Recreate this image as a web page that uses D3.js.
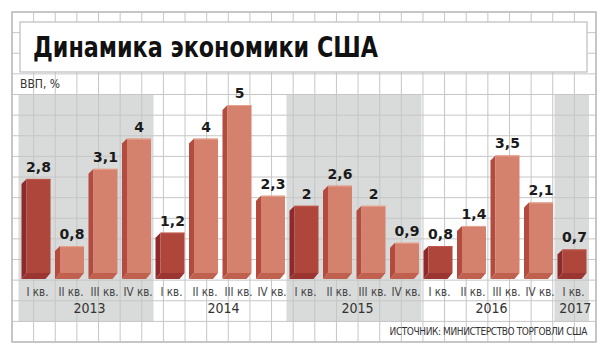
<!DOCTYPE html>
<html>
<head>
<meta charset="utf-8">
<script src="https://cdn.jsdelivr.net/npm/d3@7"></script>
<style>
  body { margin: 0; background: #fff; }
  svg { display: block; }
</style>
</head>
<body>
<div id="chart"></div>
<script>
// quarterly GDP growth, %
const quarters = ["I кв.", "II кв.", "III кв.", "IV кв.",
                  "I кв.", "II кв.", "III кв.", "IV кв.",
                  "I кв.", "II кв.", "III кв.", "IV кв.",
                  "I кв.", "II кв.", "III кв.", "IV кв.",
                  "I кв."];
const quarterYears = ["2013", "2013", "2013", "2013",
                      "2014", "2014", "2014", "2014",
                      "2015", "2015", "2015", "2015",
                      "2016", "2016", "2016", "2016",
                      "2017"];
const values = [2.8, 0.8, 3.1, 4, 1.2, 4, 5, 2.3, 2, 2.6, 2, 0.9, 0.8, 1.4, 3.5, 2.1, 0.7];
const years = ["2013", "2014", "2015", "2016", "2017"];
const shadedYears = ["2013", "2015", "2017"];

const data = values.map((v, i) => ({
  i,
  quarter: quarters[i],
  year: quarterYears[i],
  value: v,
  first: quarters[i] === "I кв."
}));

const width = 606;
const height = 352;
const gridLeft = 12, gridRight = 596, gridTop = 12, gridBottom = 342;
const depth = 5;
const condensed = "'Liberation Sans Narrow', 'DejaVu Sans Condensed', 'Roboto', sans-serif";

const svg = d3.select("#chart")
  .append("svg")
  .attr("width", width)
  .attr("height", height)
  .style("background", "#fff");

const x = d3.scaleBand()
  .domain(data.map(d => d.i))
  .range([21.5, 591])
  .padding(0);

const y = d3.scaleLinear()
  .domain([0, 5])
  .range([273, 105]);

// shaded year bands
shadedYears.forEach(yr => {
  const idx = data.filter(d => d.year === yr).map(d => d.i);
  const x0 = x(d3.min(idx)) - 3;
  const x1 = x(d3.max(idx)) + x.step() - 2;
  svg.append("rect")
    .attr("x", x0)
    .attr("y", 95)
    .attr("width", x1 - x0)
    .attr("height", 322 - 95)
    .attr("fill", "#d9dada");
});

// background grid
const grid = svg.append("g")
  .attr("stroke", "#c6c6c6")
  .attr("stroke-width", 1);

d3.range(0, 28).forEach(k => {
  const gx = gridLeft + k * (gridRight - gridLeft) / 27;
  grid.append("line")
    .attr("x1", gx).attr("x2", gx)
    .attr("y1", gridTop).attr("y2", gridBottom);
});
d3.range(0, 17).forEach(k => {
  const gy = gridTop + k * (gridBottom - gridTop) / 16;
  grid.append("line")
    .attr("x1", gridLeft).attr("x2", gridRight)
    .attr("y1", gy).attr("y2", gy);
});

svg.append("rect")
  .attr("x", gridLeft)
  .attr("y", gridTop)
  .attr("width", gridRight - gridLeft)
  .attr("height", gridBottom - gridTop)
  .attr("fill", "none")
  .attr("stroke", "#bdbdbd")
  .attr("stroke-width", 1.5);

// title box
svg.append("rect")
  .attr("x", 20)
  .attr("y", 22)
  .attr("width", 567)
  .attr("height", 50)
  .attr("fill", "#fff")
  .attr("stroke", "#bdbdbd")
  .attr("stroke-width", 1.2);

svg.append("text")
  .attr("x", 33)
  .attr("y", 57)
  .attr("textLength", 345)
  .attr("lengthAdjust", "spacingAndGlyphs")
  .style("font-family", "'DejaVu Sans', sans-serif")
  .style("font-weight", "bold")
  .style("font-size", "28px")
  .style("fill", "#111")
  .text("Динамика экономики США");

svg.append("text")
  .attr("x", 20)
  .attr("y", 88)
  .style("font-family", condensed)
  .style("font-size", "12px")
  .style("fill", "#333")
  .text("ВВП, %");

// 3d bars
const colors = {
  dark: { front: "#ae463b", side: "#8e2a2b", bottom: "#9b3532", top: "#c2594c" },
  light: { front: "#d4826d", side: "#b44b3f", bottom: "#c0604f", top: "#e7a48f" }
};

const bars = svg.selectAll("g.bar")
  .data(data)
  .enter()
  .append("g")
  .attr("class", "bar");

bars.each(function(d) {
  const g = d3.select(this);
  const c = d.first ? colors.dark : colors.light;
  const fx = x(d.i) + depth;
  const fw = x.step() - depth - 4.5;
  const top = y(d.value);
  const base = y(0);

  g.append("polygon")
    .attr("points", [
      [fx, top], [fx - depth, top + depth], [fx - depth, base + depth + 1], [fx, base]
    ].join(" "))
    .attr("fill", c.side);

  g.append("polygon")
    .attr("points", [
      [fx, base], [fx + fw, base], [fx + fw - depth, base + depth + 1], [fx - depth, base + depth + 1]
    ].join(" "))
    .attr("fill", c.bottom);

  g.append("rect")
    .attr("x", fx)
    .attr("y", top)
    .attr("width", fw)
    .attr("height", base - top)
    .attr("fill", c.front);

  g.append("line")
    .attr("x1", fx).attr("x2", fx + fw)
    .attr("y1", top + 0.5).attr("y2", top + 0.5)
    .attr("stroke", c.top)
    .attr("stroke-width", 1);

  g.append("text")
    .attr("x", fx + fw / 2)
    .attr("y", top - 7)
    .attr("text-anchor", "middle")
    .style("font-family", "'DejaVu Sans', sans-serif")
    .style("font-weight", "bold")
    .style("font-size", "14px")
    .style("fill", "#1a1a1a")
    .text(String(d.value).replace(".", ","));

  g.append("text")
    .attr("x", fx + fw / 2 - 1)
    .attr("y", 296)
    .attr("text-anchor", "middle")
    .style("font-family", condensed)
    .style("font-size", "11.5px")
    .style("fill", "#444")
    .text(d.quarter);
});

// year labels
years.forEach(yr => {
  const idx = data.filter(d => d.year === yr).map(d => d.i);
  const cx = (x(d3.min(idx)) + x(d3.max(idx)) + x.step()) / 2 + 1;
  svg.append("text")
    .attr("x", cx)
    .attr("y", 313)
    .attr("text-anchor", "middle")
    .style("font-family", condensed)
    .style("font-size", "14px")
    .style("fill", "#333")
    .text(yr);
});

svg.append("text")
  .attr("x", 587)
  .attr("y", 335)
  .attr("text-anchor", "end")
  .style("font-family", condensed)
  .style("font-size", "10px")
  .style("letter-spacing", "-0.4px")
  .style("fill", "#333")
  .text("ИСТОЧНИК: МИНИСТЕРСТВО ТОРГОВЛИ США");
</script>
</body>
</html>
